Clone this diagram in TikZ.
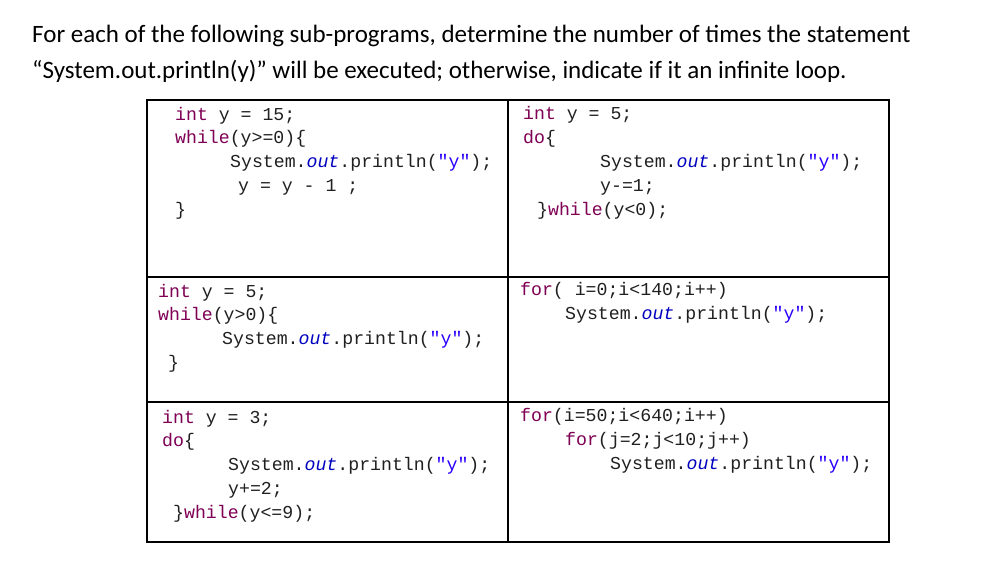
\documentclass[tikz,border=0pt]{standalone}
\usepackage{fontspec}
\setmainfont{Carlito}
\newfontfamily\codefont{Liberation Mono}
\definecolor{kwc}{HTML}{7F0055}
\definecolor{stc}{HTML}{2A00FF}
\definecolor{ouc}{HTML}{0000C0}
\definecolor{txc}{HTML}{202020}
\newcommand{\kw}[1]{\textcolor{kwc}{#1}}
\newcommand{\st}[1]{\textcolor{stc}{#1}}
\newcommand{\ou}[1]{\textcolor{ouc}{\itshape #1}}
\begin{document}
\begin{tikzpicture}[x=1pt,y=-1pt,
  code/.style={anchor=west,inner sep=0pt,font=\codefont\fontsize{18.2}{22}\selectfont,text=txc},
  title/.style={anchor=west,inner sep=0pt,font=\fontsize{25}{30}\selectfont}]
\useasboundingbox[fill=white] (0,0) rectangle (996,567);
\node[title] (t1) at (32,36) {For each of the following sub-programs, determine the number of times the statement};
\node[title] (t2) at (32,71) {“System.out.println(y)” will be executed; otherwise, indicate if it an infinite loop.};
\draw[line width=1.3pt] (147,100) rectangle (889,542);
\draw[line width=1.3pt] (508,100) -- (508,542);
\draw[line width=1.3pt] (147,277) -- (889,277);
\draw[line width=1.3pt] (147,402) -- (889,402);
% cell 1
\node[code] (a1) at (175,116) {\kw{int} y = 15;};
\node[code] (a2) at (175,139) {\kw{while}(y>=0)\{};
\node[code] (a3) at (230,163) {System.\ou{out}.println(\st{"y"});};
\node[code] (a4) at (238,187) {y = y - 1 ;};
\node[code] (a5) at (175,211) {\}};
% cell 2
\node[code] (b1) at (523,115) {\kw{int} y = 5;};
\node[code] (b2) at (523,139) {\kw{do}\{};
\node[code] (b3) at (600,163) {System.\ou{out}.println(\st{"y"});};
\node[code] (b4) at (600,187) {y-=1;};
\node[code] (b5) at (537,211) {\}\kw{while}(y<0);};
% cell 3
\node[code] (c1) at (158,293) {\kw{int} y = 5;};
\node[code] (c2) at (158,316) {\kw{while}(y>0)\{};
\node[code] (c3) at (222,340) {System.\ou{out}.println(\st{"y"});};
\node[code] (c4) at (168,364) {\}};
% cell 4
\node[code] (d1) at (520,291) {\kw{for}( i=0;i<140;i++)};
\node[code] (d2) at (565,315) {System.\ou{out}.println(\st{"y"});};
% cell 5
\node[code] (e1) at (162,419) {\kw{int} y = 3;};
\node[code] (e2) at (162,442) {\kw{do}\{};
\node[code] (e3) at (228,466) {System.\ou{out}.println(\st{"y"});};
\node[code] (e4) at (228,490) {y+=2;};
\node[code] (e5) at (173,514) {\}\kw{while}(y<=9);};
% cell 6
\node[code] (f1) at (520,417) {\kw{for}(i=50;i<640;i++)};
\node[code] (f2) at (565,441) {\kw{for}(j=2;j<10;j++)};
\node[code] (f3) at (610,465) {System.\ou{out}.println(\st{"y"});};
\end{tikzpicture}
\end{document}
